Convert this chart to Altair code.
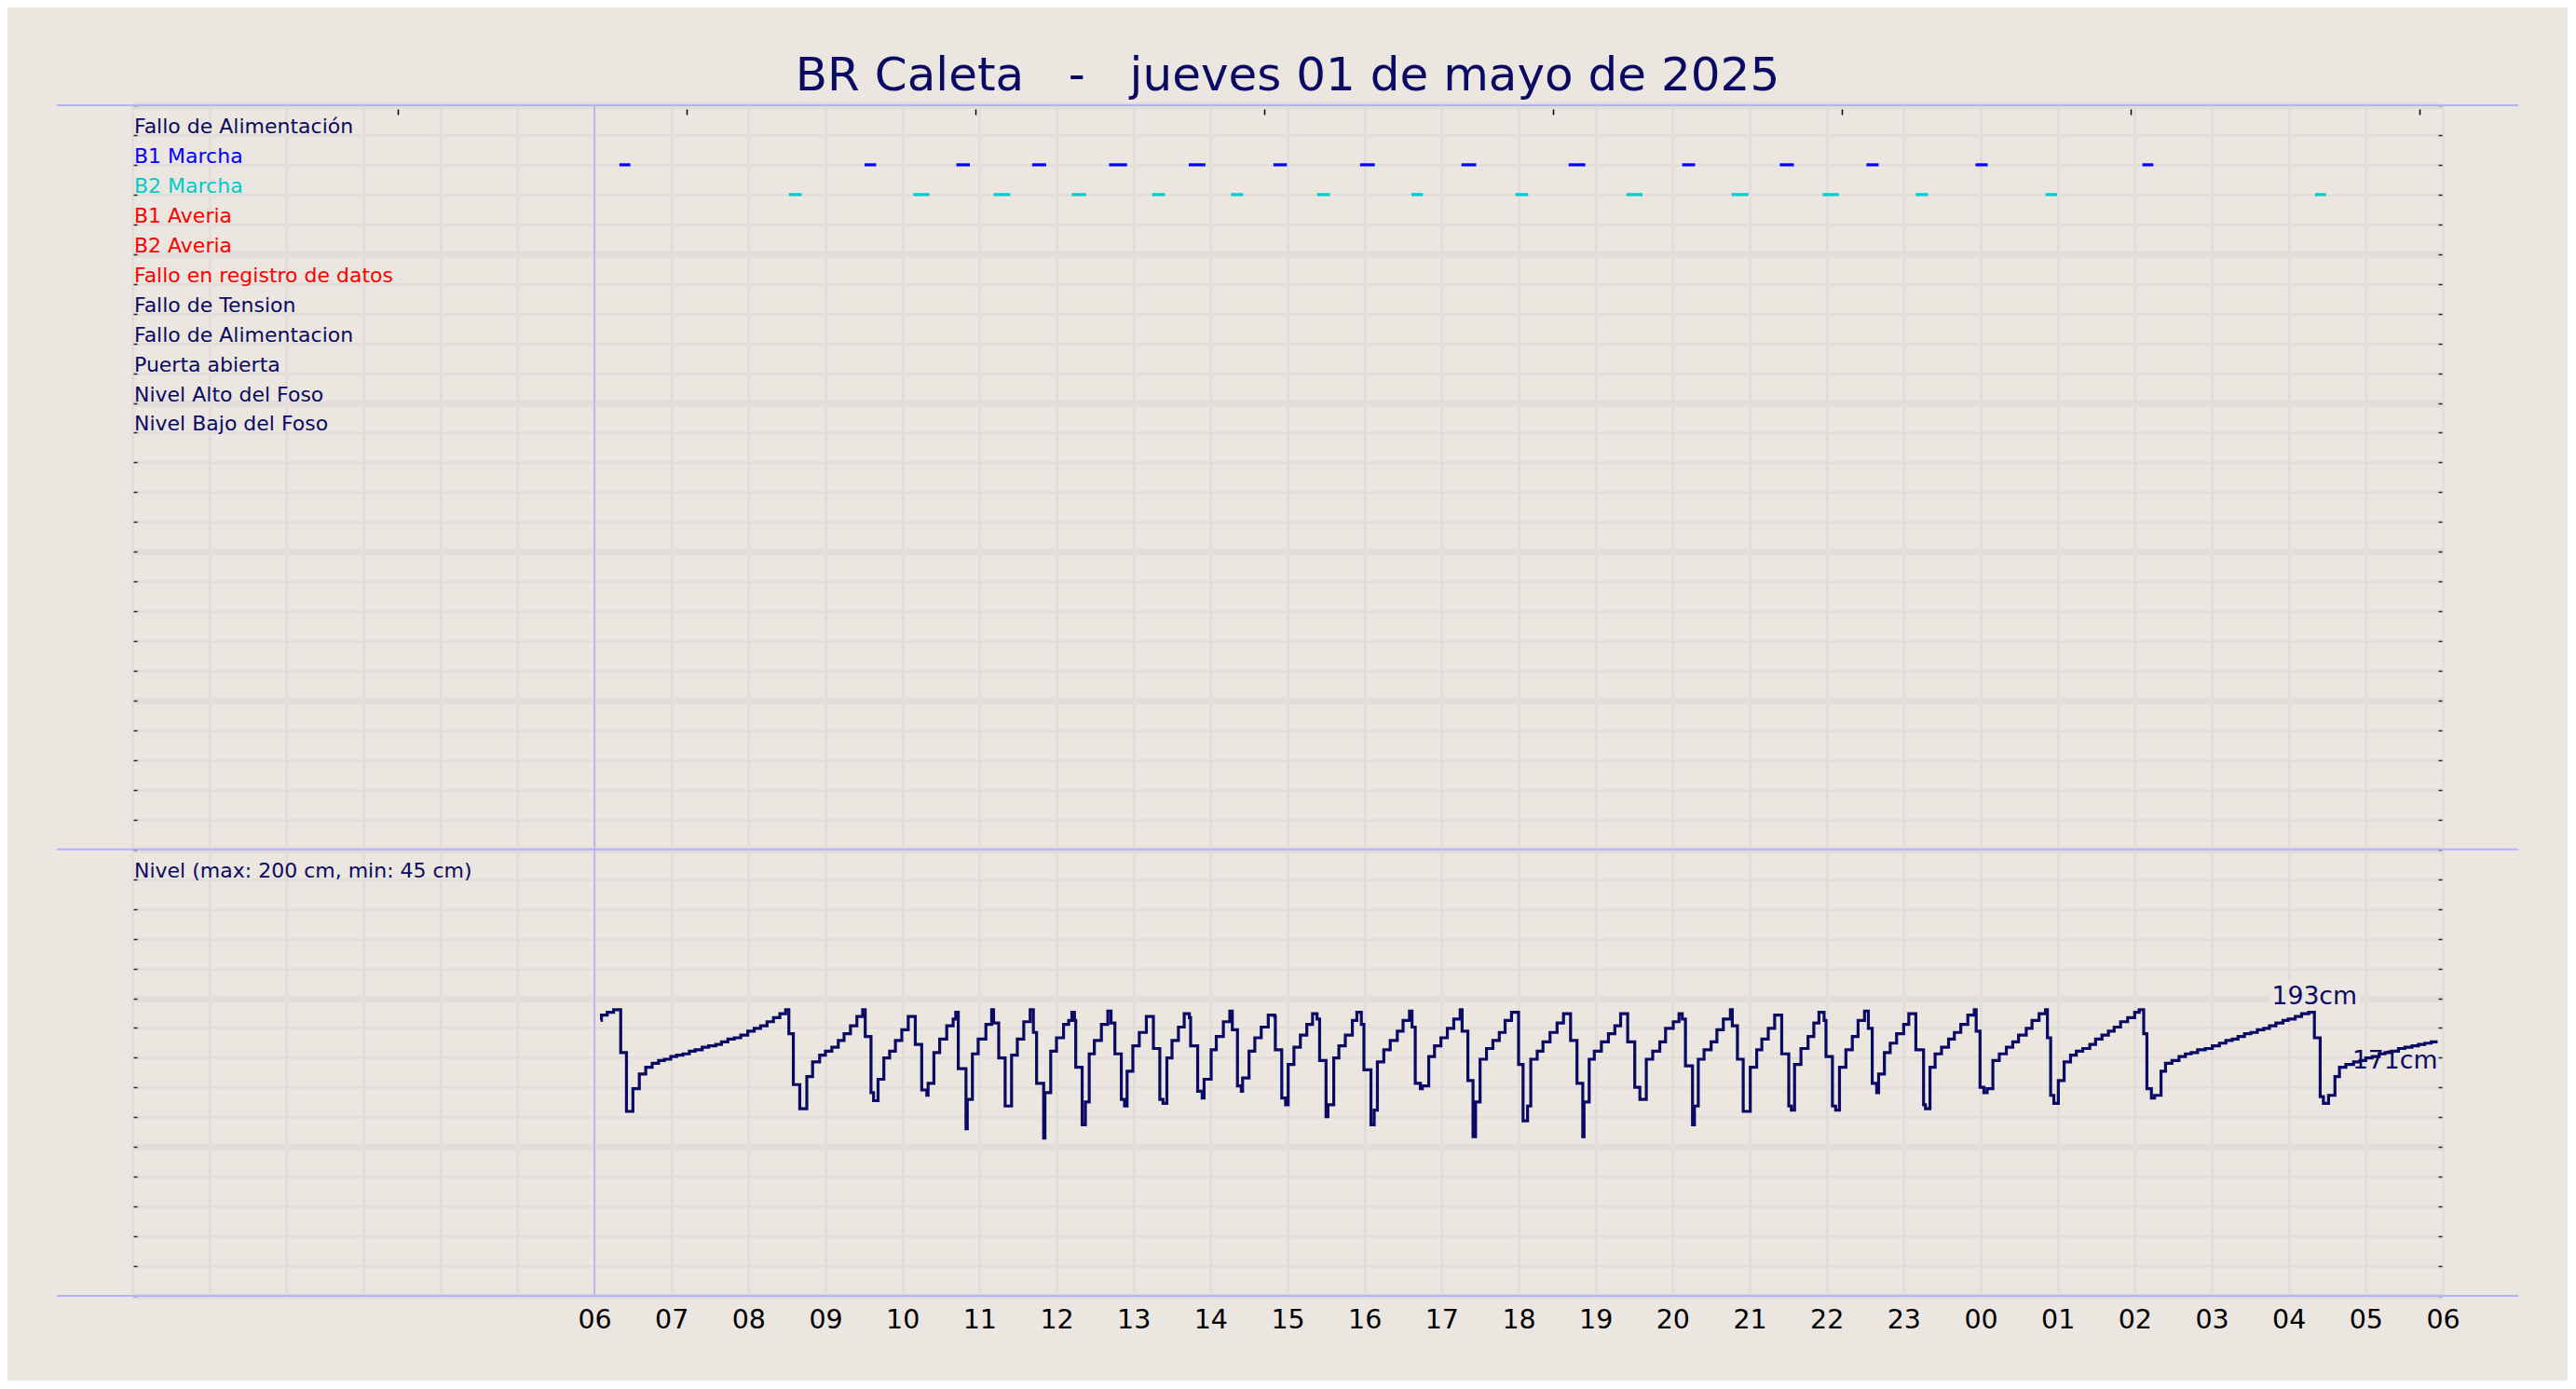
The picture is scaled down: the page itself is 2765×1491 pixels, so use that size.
import altair as alt
import pandas as pd

# ---------------- styling ----------------
BG = "#ebe6e0"
GRID = "#e2dcda"
NAVY = "#0a0a64"
SEP = "#b3b3f5"
FONT = "DejaVu Sans"
W, H = 2480, 1278

# ---------------- data ----------------
TITLE = "BR Caleta\u00a0\u00a0\u00a0-\u00a0\u00a0\u00a0jueves 01 de mayo de 2025"

ROW_LABELS = [
    "Fallo de Alimentación", "B1 Marcha", "B2 Marcha", "B1 Averia", "B2 Averia",
    "Fallo en registro de datos", "Fallo de Tension", "Fallo de Alimentacion",
    "Puerta abierta", "Nivel Alto del Foso", "Nivel Bajo del Foso",
]
ROW_COLORS = [NAVY, "#0000ff", "#00cccc", "#ff0000", "#ff0000", "#ff0000",
              NAVY, NAVY, NAVY, NAVY, NAVY]
ROW_POS = list(range(1, 12))
LEVEL_LABEL = "Nivel (max: 200 cm, min: 45 cm)"
LEVEL_LABEL_ROW = 26

HOUR_TICKS = list(range(0, 31))          # hours since 00:00 of 01/05
TOP_TICKS = [3.45, 7.2, 10.95, 14.7, 18.45, 22.2, 25.95, 29.7]
ROW_TICKS = list(range(0, 41))
SEPARATOR_ROWS = [0, 25, 40]
START_HOUR = [6]

# pump running intervals (minutes after 06:00)
B1_START = [19.5, 210.5, 282, 341, 401, 463, 529, 596.5, 675.5, 759, 847.5, 923.5, 991, 1076, 1206]
B1_END = [28, 219.5, 292.5, 352, 415, 476, 539.5, 608, 687, 772, 857.5, 934.5, 1000.5, 1085.5, 1214.5]
B2_START = [151.5, 248.5, 311, 372, 434.5, 496, 563, 636.5, 717.5, 804, 886, 957, 1029.5, 1130.5, 1340.5]
B2_END = [161.5, 261, 324, 383, 444.5, 505.5, 573, 645.5, 727.5, 816.5, 899, 969.5, 1039, 1139.5, 1349]

# level readings: (minutes after 06:00, cm)
LEVEL_READINGS = [
    (5, 187), (5.5, 191), (10, 193), (15, 195), (20.5, 163), (25, 119), (30, 136), (35, 147),
    (40, 152), (45, 155), (50, 157), (54.5, 158), (59.5, 160), (64, 161), (69, 162), (74, 164),
    (78.5, 165), (84, 167), (89, 168), (94.5, 169), (99, 171), (104, 173), (109, 174), (114, 176),
    (119.5, 179), (124.5, 181), (129.5, 183), (134.5, 186), (139.5, 189), (144.5, 192), (149, 195),
    (151.5, 177), (155, 139), (160, 121), (165.5, 145), (170, 156), (175.5, 161), (180, 164),
    (185, 167), (190, 172), (194.5, 177), (199.5, 183), (204.5, 190), (209, 195), (211, 175),
    (215.5, 133), (217.5, 127), (221, 143), (225.5, 159), (230, 164), (234.5, 172), (239.5, 180),
    (244.5, 190), (250, 169), (255, 135), (259, 131), (260, 140), (264.5, 163), (269, 173),
    (274.5, 183), (279.5, 188), (281.5, 193), (283.5, 151), (289.5, 106), (290.5, 128), (294.5, 162),
    (299, 173), (305, 184), (309.5, 195), (311, 185), (315, 159), (320, 123), (325, 161),
    (329.5, 173), (334.5, 186), (339.5, 195), (342, 178), (344.5, 140), (350, 99), (351, 133),
    (355.5, 164),
    (360, 174), (365.5, 184), (369.5, 187), (372, 193), (374, 187), (375, 152), (380, 109),
    (382.5, 126), (385.5, 162), (389.5, 172), (395, 184), (400, 194), (402.5, 185), (405.5, 162),
    (410.5, 128), (413, 123), (415, 149), (419.5, 168), (424.5, 178), (430, 190), (435.5, 166),
    (440.5, 128), (443, 125), (446, 159), (450, 172), (455, 182), (459.5, 192), (463.5, 189),
    (464.5, 168), (470, 134), (473.5, 129), (475, 143), (480.5, 165), (484.5, 175), (490, 186),
    (495, 194), (497, 180), (501, 138), (504, 134), (505, 144), (510, 164), (514.5, 174),
    (519.5, 182), (525, 191), (530, 190), (530.5, 165), (535.5, 129), (538.5, 124), (540.5, 154),
    (545, 167), (550, 176), (555, 184), (559.5, 192), (563, 188), (565, 157), (570, 115),
    (571.5, 124), (576, 159), (580, 168), (585, 176), (590.5, 187), (594, 193), (597.5, 184),
    (599.5, 150), (605, 109), (607.5, 120), (610, 156), (615, 165), (620, 172), (625.5, 179),
    (630, 187), (635, 194), (637, 182), (639.5, 140), (643.5, 136), (645, 138), (650, 160),
    (654.5, 168), (659.5, 174), (664.5, 181), (669.5, 188), (674.5, 195), (676, 179), (680.5, 142),
    (684.5, 100), (686.5, 126), (690, 158), (695, 166), (700, 172), (705, 178), (709.5, 187),
    (714.5, 193),
    (720, 154), (723.5, 112), (727, 123), (729.5, 158), (734.5, 164), (739, 171), (744.5, 178),
    (750, 185), (755, 192), (760.5, 172), (765.5, 140), (770, 100), (771, 126), (775, 158),
    (779, 164), (784.5, 171), (790, 177), (795, 183), (799.5, 192), (805, 171), (810.5, 137),
    (814.5, 128), (819.5, 158), (824.5, 164), (830, 171), (834.5, 181), (840.5, 186), (845, 192),
    (847.5, 188), (850, 153), (855.5, 109), (857, 123), (860, 158), (864.5, 165), (870, 171),
    (874.5, 180), (879.5, 188), (885, 195), (886.5, 183), (890.5, 158), (895, 119), (900.5, 152),
    (905.5, 165), (909.5, 173), (914.5, 181), (919.5, 191), (925, 162), (930.5, 123), (932.5, 120),
    (935, 154), (940, 166), (945.5, 175), (950, 185), (954, 193), (958, 187), (959.5, 160),
    (964.5, 123), (967, 120), (970, 152), (975, 165), (980, 175), (984.5, 187), (989.5, 194),
    (992.5, 181), (995.5, 140), (999, 133), (1000.5, 147), (1005, 163), (1009.5, 170),
    (1014.5, 177), (1020, 184), (1024, 192), (1029.5, 165), (1035.5, 124), (1037, 121),
    (1040.5, 152), (1044.5, 162), (1049.5, 167), (1055, 173), (1059.5, 178), (1064.5, 184),
    (1070, 191), (1075, 195), (1076.5, 179), (1079.5, 137),
    (1082.5, 133), (1085, 136), (1089.5, 157), (1094.5, 162), (1100, 167), (1105, 171),
    (1109.5, 176), (1115.5, 181), (1120, 187), (1125.5, 192), (1130.5, 195), (1132, 174),
    (1134.5, 131), (1137, 125), (1140.5, 142), (1145, 156), (1150, 161), (1154.5, 164),
    (1159.5, 166), (1165, 169), (1169.5, 173), (1174.5, 176), (1179.5, 179), (1184, 182),
    (1189, 186), (1194.5, 189), (1200, 193), (1203.5, 195), (1207, 177), (1209.5, 136),
    (1213, 129), (1215.5, 131), (1220.5, 149), (1224, 155), (1229, 157), (1234.5, 160),
    (1239.5, 162), (1244, 163), (1249, 165), (1255, 166), (1260.5, 168), (1266, 170), (1271, 172),
    (1276, 173), (1280.5, 175), (1285.5, 177), (1290.5, 178), (1295.5, 180), (1300.5, 181),
    (1305, 183), (1310, 185), (1315.5, 187), (1319.5, 188), (1325, 190), (1330, 192),
    (1335.5, 193), (1340, 174), (1344.5, 130), (1347, 125), (1351, 131), (1356, 145),
    (1359.5, 152), (1364.5, 154), (1370.5, 156), (1375.5, 157), (1380, 159), (1385, 160),
    (1390.5, 162), (1395, 163), (1400.5, 164), (1405.5, 166), (1410.5, 167), (1416, 168),
    (1421, 169), (1426, 170), (1431, 171), (1436, 171),
]

ANNOT_MIN = [1340, 1436]
ANNOT_CM = [193, 171]
ANNOT_TEXT = ["193cm", "171cm"]

# ---------------- frames ----------------
rows_df = pd.DataFrame({
    "label": ROW_LABELS + [LEVEL_LABEL],
    "row": ROW_POS + [LEVEL_LABEL_ROW],
    "color": ROW_COLORS + [NAVY],
    "h": 0.0,
})

marcha_df = pd.DataFrame({
    "start": B1_START + B2_START,
    "end": B1_END + B2_END,
    "row": [2] * len(B1_START) + [3] * len(B2_START),
    "color": ["#0000ff"] * len(B1_START) + ["#00cccc"] * len(B2_START),
})
marcha_df["h0"] = 6 + marcha_df["start"] / 60
marcha_df["h1"] = 6 + marcha_df["end"] / 60

lev_df = pd.DataFrame(LEVEL_READINGS, columns=["min", "cm"])
lev_df["h"] = 6 + lev_df["min"] / 60

ann_df = pd.DataFrame({"min": ANNOT_MIN, "cm": ANNOT_CM, "text": ANNOT_TEXT})
ann_df["h"] = 6 + ann_df["min"] / 60

sep_df = pd.DataFrame({"row": SEPARATOR_ROWS})
vline_df = pd.DataFrame({"h": START_HOUR})

# ---------------- scales ----------------
xscale = alt.Scale(domain=[0, 30], nice=False, zero=False)
rowscale = alt.Scale(domain=[0, 40], reverse=True, nice=False, zero=False)
levscale = alt.Scale(domain=[-18.9, 871.1], nice=False, zero=False)

label_expr = ("datum.value < 6 ? '' : (((datum.value % 24) < 10 ? '0' : '') + (datum.value % 24))")

labels = alt.Chart(rows_df).mark_text(
    align="left", baseline="alphabetic", font=FONT, fontSize=22, dx=2, dy=-2
).encode(
    x=alt.X("h:Q", scale=xscale, axis=alt.Axis(
        orient="bottom", values=HOUR_TICKS, labelExpr=label_expr, grid=True,
        gridColor=GRID, gridWidth=2.7, ticks=False, tickSize=0, domain=False,
        labelFont=FONT, labelFontSize=28.5, labelColor="black", labelPadding=11,
        labelFlush=False, labelOverlap=False, title=None)),
    y=alt.Y("row:Q", scale=rowscale, axis=alt.Axis(
        orient="left", values=ROW_TICKS, grid=True, gridColor=GRID,
        gridWidth={"condition": {"test": "datum.value % 5 === 0", "value": 7}, "value": 2.7},
        ticks=True, tickSize=4, tickColor="#222222", tickWidth=1.5, offset=-5,
        labels=False, domain=False, title=None)),
    text="label:N",
    color=alt.Color("color:N", scale=None),
)

marcha = alt.Chart(marcha_df).mark_rule(strokeWidth=3.2, strokeCap="butt").encode(
    x=alt.X("h0:Q", scale=xscale, axis=alt.Axis(
        orient="top", values=TOP_TICKS, labels=False, grid=False, domain=False,
        ticks=True, tickSize=6, tickColor="black", tickWidth=1.5, offset=-10, title=None)),
    x2="h1:Q",
    y=alt.Y("row:Q", scale=rowscale, axis=alt.Axis(
        orient="right", values=ROW_TICKS, labels=False, grid=False, domain=False,
        ticks=True, tickSize=4, tickColor="#222222", tickWidth=1.5, offset=-5, title=None)),
    color=alt.Color("color:N", scale=None),
)

seps = alt.Chart(sep_df).mark_rule(color=SEP, strokeWidth=2).encode(
    y=alt.Y("row:Q", scale=rowscale, axis=None),
    x=alt.value(-81), x2=alt.value(W + 81),
)

vline = alt.Chart(vline_df).mark_rule(color=SEP, strokeWidth=1.6).encode(
    x=alt.X("h:Q", scale=xscale, axis=None),
)

level = alt.Chart(lev_df).mark_line(
    interpolate="step-after", color=NAVY, strokeWidth=3.2
).encode(
    x=alt.X("h:Q", scale=xscale, axis=None),
    y=alt.Y("cm:Q", scale=levscale, axis=None),
    order="min:Q",
)

ann_peak = ann_df.iloc[[0]]
ann_last = ann_df.iloc[[1]]

peak_halo = alt.Chart(ann_peak).mark_text(
    align="center", baseline="alphabetic", font=FONT, fontSize=26.7, dy=-8.6,
    stroke=BG, strokeWidth=12, color=BG
).encode(
    x=alt.X("h:Q", scale=xscale, axis=None),
    y=alt.Y("cm:Q", scale=levscale, axis=None),
    text="text:N",
)
peak_text = alt.Chart(ann_peak).mark_text(
    align="center", baseline="alphabetic", font=FONT, fontSize=26.7, dy=-8.6, color=NAVY
).encode(
    x=alt.X("h:Q", scale=xscale, axis=None),
    y=alt.Y("cm:Q", scale=levscale, axis=None),
    text="text:N",
)
last_text = alt.Chart(ann_last).mark_text(
    align="right", baseline="alphabetic", font=FONT, fontSize=26.7, dy=29, color=NAVY
).encode(
    x=alt.X("h:Q", scale=xscale, axis=None),
    y=alt.Y("cm:Q", scale=levscale, axis=None),
    text="text:N",
)

chart = alt.layer(
    labels, seps, vline, marcha, peak_halo, last_text, level, peak_text
).resolve_scale(
    y="independent"
).properties(
    width=W, height=H,
    title=alt.TitleParams(
        TITLE, font=FONT, fontSize=50, fontWeight="normal", color=NAVY,
        anchor="middle", frame="group", offset=-35, baseline="alphabetic"),
    autosize=alt.AutoSizeParams(type="none"),
    padding={"left": 134, "top": 105, "right": 134, "bottom": 91},
).configure(
    background=BG,
).configure_view(
    stroke=None,
)

chart.save("out.html", embed_options={"renderer": "svg", "actions": False})
